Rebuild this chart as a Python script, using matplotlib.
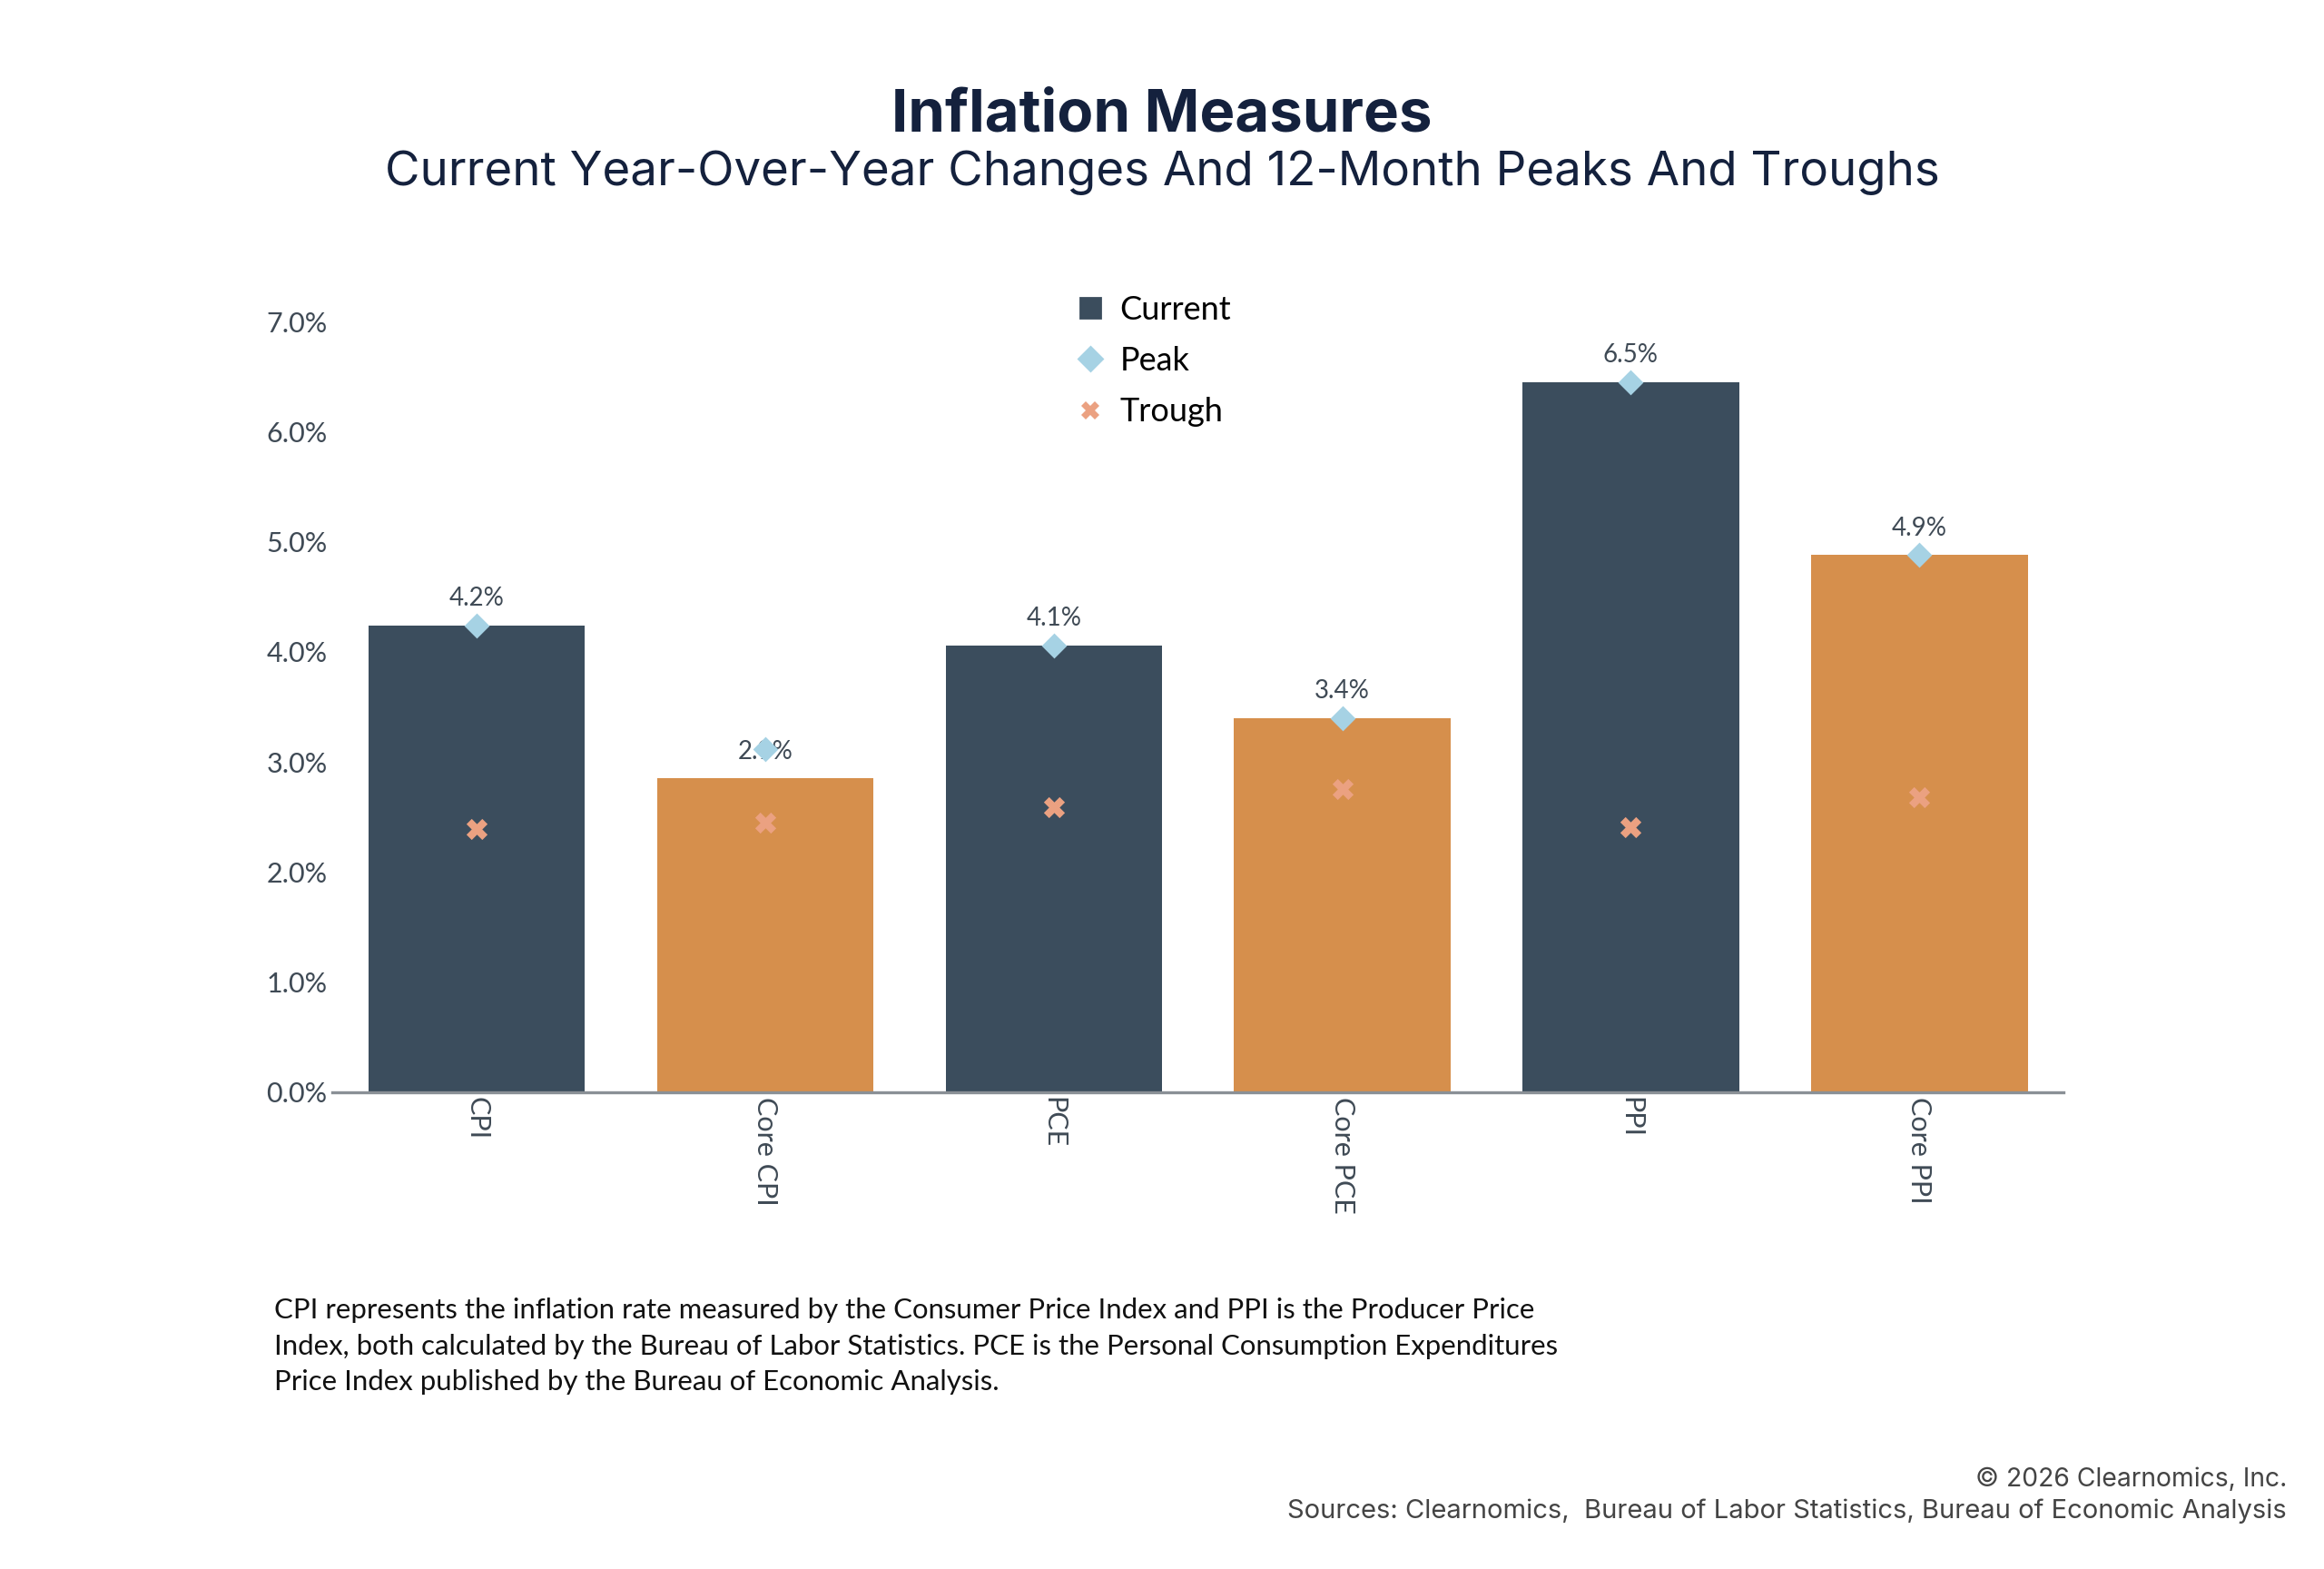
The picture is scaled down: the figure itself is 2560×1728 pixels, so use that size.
import matplotlib
matplotlib.use("Agg")
import matplotlib.pyplot as plt
from matplotlib.lines import Line2D
from matplotlib.ticker import FuncFormatter

# values (percent, year-over-year)
measures = ["CPI", "Core CPI", "PCE", "Core PCE", "PPI", "Core PPI"]
current = [4.24, 2.85, 4.06, 3.40, 6.45, 4.88]
peak = [4.24, 3.12, 4.06, 3.40, 6.45, 4.88]
trough = [2.39, 2.45, 2.59, 2.75, 2.41, 2.68]
value_labels = ["4.2%", "2.9%", "4.1%", "3.4%", "6.5%", "4.9%"]
y_ticks = [0, 1, 2, 3, 4, 5, 6, 7]

DARK = "#3b4d5d"
ORANGE = "#d68f4c"
PEAK_C = "#a6d2e4"
TROUGH_C = "#eba181"
TEXT_C = "#3f4a55"
NAVY = "#14213d"

BODY = ["Lato", "DejaVu Sans"]
HEAD = ["Inter", "DejaVu Sans"]

fig = plt.figure(figsize=(12.8, 8.64), dpi=200)
ax = fig.add_axes([0.143, 0.304, 0.745, 0.491])

x = range(len(measures))
colors = [DARK if i % 2 == 0 else ORANGE for i in x]
ax.bar(x, current, width=0.75, color=colors, zorder=2)
ax.scatter(x, peak, marker="D", s=50, color=PEAK_C, zorder=4, linewidths=0)
ax.scatter(x, trough, marker="X", s=70, color=TROUGH_C, zorder=4, linewidths=0)

for i, (v, lab) in enumerate(zip(current, value_labels)):
    ax.annotate(lab, (i, v), xytext=(0, 6), textcoords="offset points",
                ha="center", va="bottom", fontsize=10, color=TEXT_C,
                family=BODY, zorder=3)

ax.set_xlim(-0.5, len(measures) - 0.5)
ax.set_ylim(0, 7.0)
ax.set_yticks(y_ticks)
ax.yaxis.set_major_formatter(FuncFormatter(lambda v, _: "%.1f%%" % v))
ax.set_xticks(list(x))
ax.set_xticklabels(measures, rotation=-90, va="top", ha="center")
ax.tick_params(axis="y", length=0, pad=2, labelsize=11, labelcolor=TEXT_C)
ax.tick_params(axis="x", length=0, pad=2, labelsize=11, labelcolor=TEXT_C)
for lab in ax.get_xticklabels() + ax.get_yticklabels():
    lab.set_family(BODY)

for side in ["top", "right", "left"]:
    ax.spines[side].set_visible(False)
ax.spines["bottom"].set_color("#8a9096")
ax.spines["bottom"].set_linewidth(1.2)
ax.spines["bottom"].set_zorder(3)

handles = [
    Line2D([], [], marker="s", linestyle="none", color=DARK, markersize=8),
    Line2D([], [], marker="D", linestyle="none", color=PEAK_C, markersize=6.5),
    Line2D([], [], marker="X", linestyle="none", color=TROUGH_C, markersize=7,
           markeredgewidth=0),
]
fig.legend(handles, ["Current", "Peak", "Trough"], loc="upper left",
           bbox_to_anchor=(0.448, 0.831), frameon=False, handletextpad=0.3,
           handlelength=1.2, labelspacing=0.65,
           prop={"family": BODY, "size": 13})

fig.text(0.5, 0.926, "Inflation Measures", ha="center", va="center",
         fontsize=23.5, fontweight="bold", color=NAVY, family=HEAD)
fig.text(0.5, 0.890,
         "Current Year-Over-Year Changes And 12-Month Peaks And Troughs",
         ha="center", va="center", fontsize=19, color=NAVY, family=HEAD)

note = ("CPI represents the inflation rate measured by the Consumer Price Index and PPI is the Producer Price\n"
        "Index, both calculated by the Bureau of Labor Statistics. PCE is the Personal Consumption Expenditures\n"
        "Price Index published by the Bureau of Economic Analysis.")
fig.text(0.118, 0.173, note, ha="left", va="top", fontsize=11.2,
         color="#111111", family=BODY, linespacing=1.5)

fig.text(0.984, 0.057, "\u00a9 2026 Clearnomics, Inc.", ha="right",
         va="center", fontsize=10.2, color="#444444", family=HEAD)
fig.text(0.984, 0.037,
         "Sources: Clearnomics,  Bureau of Labor Statistics, Bureau of Economic Analysis",
         ha="right", va="center", fontsize=10.5, color="#444444", family=HEAD)

fig.savefig("out.png", dpi=200, facecolor="white")
